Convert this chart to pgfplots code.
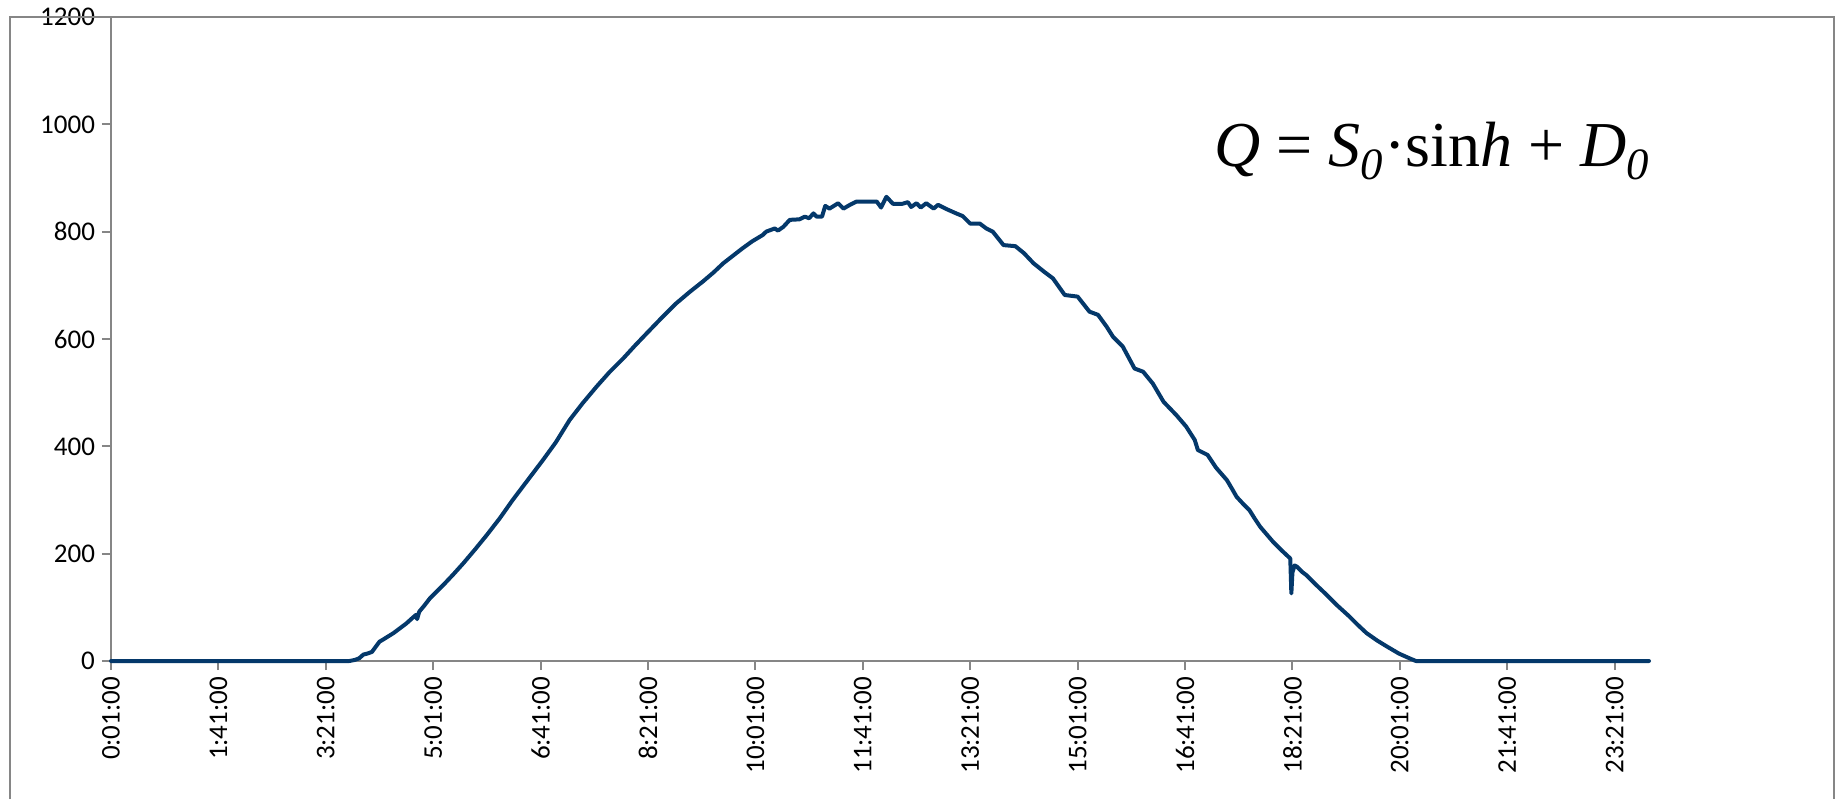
\documentclass[border=0pt]{standalone}
\usepackage{pgfplots}
\pgfplotsset{compat=1.18}
\usepackage{fontspec}
\setmainfont{Carlito}
\newfontfamily\formulafont{Liberation Serif}
\definecolor{curve}{RGB}{4,56,106}
\definecolor{axisgray}{RGB}{134,134,134}

\begin{document}
\begin{tikzpicture}[x=1pt,y=1pt]
\begin{axis}[
  at={(55.5pt,69pt)}, anchor=south west,
  scale only axis, width=769pt, height=322pt,
  xmin=1, xmax=1433, ymin=0, ymax=1200,
  axis x line=bottom, axis y line=left,
  axis line style={draw=axisgray, line width=1pt, -},
  tick style={draw=axisgray, line width=1pt},
  tick align=outside, major tick length=4.5pt,
  xtick={1,101,...,1401},
  xticklabels={0:01:00,1:41:00,3:21:00,5:01:00,6:41:00,8:21:00,10:01:00,11:41:00,13:21:00,15:01:00,16:41:00,18:21:00,20:01:00,21:41:00,23:21:00},
  ytick={0,200,...,1200},
  xticklabel style={rotate=90, anchor=east},
  tick label style={font=\fontsize{13.5}{16}\selectfont},
  /pgf/number format/assume math mode=true,
  /pgf/number format/1000 sep={},
  clip=false,
]
% irradiance over the day, one reading per minute index
\addplot[curve, line width=2pt, line join=round, line cap=round] coordinates {
(1,0) (223,0) (228,2) (232,5) (236,12) (240,14) (244,17) (248,28) (251,36)
(256,42) (260,47) (264,52) (270,61) (276,70) (281,79) (285,86) (286,78)
(288,92) (293,104) (298,117) (305,131) (312,145) (320,162) (329,182)
(340,208) (351,235) (363,266) (375,300) (389,337) (403,374) (415,407)
(428,449) (440,480) (453,511) (465,538) (478,564) (489,588) (500,611)
(513,638) (527,666) (540,688) (552,707) (562,724) (571,741) (580,755)
(589,769) (598,782) (608,794) (611,800) (619,806) (622,802) (627,809)
(633,822) (642,823) (647,828) (651,825) (655,834) (658,828) (663,828)
(666,848) (670,843) (678,853) (683,843) (689,850) (695,856) (705,856)
(714,856) (718,845) (723,865) (729,852) (738,852) (743,855) (746,846)
(751,853) (755,845) (760,853) (767,843) (771,850) (779,842) (788,834)
(794,829) (801,815) (810,815) (816,806) (822,800) (832,775) (843,773)
(851,760) (860,741) (870,725) (878,713) (889,682) (901,679) (912,651)
(920,645) (928,623) (934,604) (943,586) (954,545) (962,539) (971,517)
(981,483) (993,458) (1002,437) (1010,412) (1013,393) (1022,384)
(1030,360) (1040,337) (1045,320) (1049,306) (1055,293)
(1061,281) (1066,265) (1071,250) (1077,236) (1083,222) (1091,206)
(1099,191) (1100,126) (1101,165) (1103,178) (1105,176) (1110,166)
(1114,160) (1123,142) (1133,123) (1143,103) (1154,83) (1162,67)
(1170,52) (1180,38) (1189,27) (1200,14) (1210,5) (1216,0) (1433,0)
};
\end{axis}
% outer chart frame
\draw[axisgray, line width=1pt] (5pt,0) -- (5pt,391pt) -- (917pt,391pt) -- (917pt,0);
\node[anchor=base west, inner sep=0pt] at (607pt,316pt)
  {\formulafont\fontsize{32}{36}\selectfont
   \textit{Q} = \textit{S}\textsubscript{\textit{0}}·sin\textit{h} + \textit{D}\textsubscript{\textit{0}}};
\pgfresetboundingbox
\useasboundingbox (0,0) rectangle (918.5pt,399.5pt);
\end{tikzpicture}
\end{document}
